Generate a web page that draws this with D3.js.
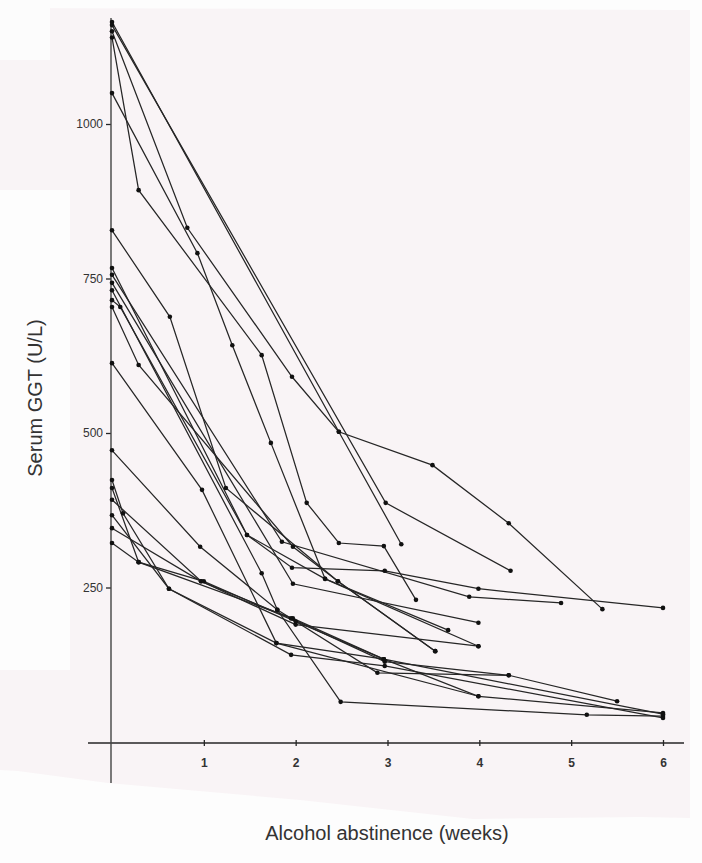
<!DOCTYPE html>
<html><head><meta charset="utf-8">
<script src="https://cdn.jsdelivr.net/npm/d3@7"></script>
<style>
html,body{margin:0;padding:0;background:#fdfdfd;}
svg{display:block;}
</style></head>
<body>
<svg id="c" width="702" height="863"></svg>
<script>
// Data: each patient's serum GGT (U/L) by weeks of alcohol abstinence
const xTicks = [1, 2, 3, 4, 5, 6];
const yTicks = [250, 500, 750, 1000];
const xLabel = "Alcohol abstinence (weeks)";
const yLabel = "Serum GGT (U/L)";

const p01 = [[0,1165],[2.47,502],[3.49,448],[4.32,354],[5.34,215]];
const p02 = [[0,1160],[2.98,387],[4.34,277]];
const p03 = [[0,1150],[0.82,832],[1.96,591],[2.47,502],[3.15,320]];
const p04 = [[0,1140],[0.29,893],[1.63,626],[2.12,387],[2.47,322],[2.96,317],[3.31,230]];
const p05 = [[0,1050],[0.93,791],[1.31,642],[1.73,484],[2.32,264],[3.66,181]];
const p06 = [[0,828],[0.63,688],[1.24,411],[2.46,260],[3.52,147]];
const p07 = [[0,767],[1.47,335],[1.96,282],[2.97,277],[3.99,248],[6,217]];
const p08 = [[0,756],[1.85,324],[3.89,235],[4.89,225]];
const p09 = [[0,743],[1.97,256],[3.99,193]];
const p10 = [[0,731],[1.63,273],[1.8,214],[2.49,65],[5.17,44],[6,42]];
const p11 = [[0,715],[0.09,704],[1.47,335],[2.32,264],[3.99,155]];
const p12 = [[0,704],[0.29,610],[1.97,316],[2.46,260],[3.52,147]];
const p13 = [[0,613],[0.98,408],[1.79,160],[2.96,134],[3.99,74],[6,47]];
const p14 = [[0,472],[0.96,316],[1.8,214],[2.89,112],[4.32,108],[5.5,66]];
const p15 = [[0,424],[0.12,370],[0.62,248],[1.95,141],[2.97,123],[6,39]];
const p16 = [[0,411],[0.29,291],[1.97,200],[2.96,134],[6,45]];
const p17 = [[0,392],[0.97,260],[2.0,190],[3.99,155]];
const p18 = [[0,367],[0.62,248],[1.79,160],[3.99,74]];
const p19 = [[0,346],[0.97,260],[1.95,200],[2.97,130],[4.32,108]];
const p20 = [[0,322],[0.29,291],[1.0,260],[2.0,195],[2.96,134]];
const patients = [p01,p02,p03,p04,p05,p06,p07,p08,p09,p10,p11,p12,p13,p14,p15,p16,p17,p18,p19,p20];

const svg = d3.select("#c");
const x = d3.scaleLinear().domain([0, 6]).range([112, 663]);
const y = d3.scaleLinear().domain([0, 1000]).range([742, 124]);

// scanned paper background
svg.append("rect").attr("x",0).attr("y",0).attr("width",702).attr("height",863).attr("fill","#fdfdfd");
svg.append("path")
  .attr("d","M0,8 L690,10 L690,818 L640,817 L473,819 L300,800 L108,783 L18,771 L0,770 Z")
  .attr("fill","#f9f4f6");
svg.append("rect").attr("x",0).attr("y",190).attr("width",70).attr("height",480).attr("fill","#fdfdfd");
svg.append("rect").attr("x",0).attr("y",0).attr("width",50).attr("height",60).attr("fill","#fcfcfc");

const ink = "#262626";

// axes
const gx = svg.append("g").attr("transform", `translate(0,${y(0) + 1})`)
  .call(d3.axisBottom(x).tickValues(xTicks).tickSizeInner(4).tickSizeOuter(0).tickPadding(11).tickFormat(d3.format("d")));
gx.select(".domain").remove();
gx.selectAll(".tick line").attr("y1",-3).attr("y2",3).attr("stroke",ink).attr("stroke-width",1.3);
gx.selectAll(".tick text").attr("font-family","Liberation Sans, Arial, sans-serif")
  .attr("font-size",12).attr("font-weight","bold").attr("fill","#333");

const gy = svg.append("g").attr("transform", `translate(${x(0) - 1},0)`)
  .call(d3.axisLeft(y).tickValues(yTicks).tickSizeInner(5).tickSizeOuter(0).tickPadding(3).tickFormat(d3.format("d")));
gy.select(".domain").remove();
gy.selectAll(".tick line").attr("stroke",ink).attr("stroke-width",1.3);
gy.selectAll(".tick text").attr("font-family","Liberation Sans Narrow, Liberation Sans, Arial, sans-serif")
  .attr("font-size",12).attr("fill","#333");

// axis lines
svg.append("line").attr("x1",88).attr("x2",684).attr("y1",y(0)+1).attr("y2",y(0)+1)
  .attr("stroke",ink).attr("stroke-width",1.6);
svg.append("line").attr("x1",x(0)-1).attr("x2",x(0)-1).attr("y1",18).attr("y2",783)
  .attr("stroke","#444").attr("stroke-width",1.4);

// patient lines
const line = d3.line().x(d => x(d[0])).y(d => y(d[1]));
svg.append("g").selectAll("path").data(patients).join("path")
  .attr("d", line).attr("fill","none").attr("stroke",ink).attr("stroke-width",1.25);
svg.append("g").selectAll("g").data(patients).join("g")
  .selectAll("circle").data(d => d).join("circle")
  .attr("cx", d => x(d[0])).attr("cy", d => y(d[1])).attr("r", 2.3).attr("fill","#111");

// labels
svg.append("text").attr("x",387).attr("y",840).attr("text-anchor","middle")
  .attr("font-family","Liberation Sans, Arial, sans-serif").attr("font-size",20).attr("fill","#333")
  .text(xLabel);
svg.append("text").attr("transform","translate(42,398) rotate(-90)").attr("text-anchor","middle")
  .attr("font-family","Liberation Sans, Arial, sans-serif").attr("font-size",20).attr("fill","#333")
  .text(yLabel);
</script>
</body></html>
